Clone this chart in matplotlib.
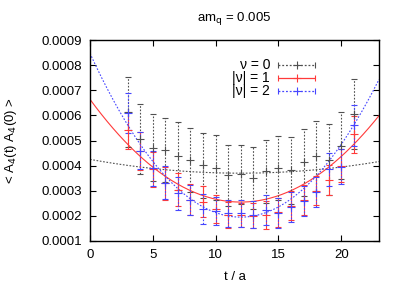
import numpy as np
import matplotlib
matplotlib.use('Agg')
import matplotlib.pyplot as plt

plt.rcParams['font.family'] = ['Liberation Sans', 'DejaVu Sans']
plt.rcParams['font.size'] = 9

# time slices
t = [3, 4, 5, 6, 7, 8, 9, 10, 11, 12, 13, 14, 15, 16, 17, 18, 19, 20, 21]

# nu = 0 (values in units of 1e-4)
nu0 = [6.12, 5.06, 4.72, 4.62, 4.39, 4.22, 4.02, 3.91, 3.61, 3.66, 3.51, 3.77,
       3.90, 3.82, 4.13, 4.38, 4.24, 4.80, 6.06]
nu0_err = [1.39, 1.38, 1.33, 1.28, 1.36, 1.28, 1.29, 1.29, 1.23, 1.18, 1.24, 1.25,
           1.28, 1.34, 1.32, 1.39, 1.40, 1.32, 1.38]

# |nu| = 1
nu1 = [5.40, 4.57, 3.85, 3.30, 3.05, 2.65, 2.57, 2.27, 2.03, 2.04, 2.00, 2.03,
       2.15, 2.40, 2.62, 3.00, 3.42, 4.00, 5.24]
nu1_err = [0.72, 0.75, 0.70, 0.65, 0.67, 0.62, 0.61, 0.55, 0.53, 0.48, 0.50, 0.57,
           0.58, 0.58, 0.60, 0.58, 0.60, 0.65, 0.73]

# |nu| = 2
nu2 = [6.10, 4.60, 3.90, 3.32, 2.90, 2.62, 2.29, 2.20, 2.10, 2.10, 2.05, 2.25,
       2.10, 2.36, 2.60, 2.96, 3.85, 3.95, 5.60]
nu2_err = [0.80, 0.75, 0.70, 0.65, 0.65, 0.60, 0.60, 0.55, 0.55, 0.55, 0.55, 0.60,
           0.60, 0.60, 0.60, 0.60, 0.65, 0.70, 0.80]

# fit curves: minimum value, position of minimum, rise from min to t=0
fit0 = (3.70, 12.0, 0.55)
fit1 = (2.55, 12.0, 4.09)
fit2 = (1.95, 12.0, 6.52)

labels = ['ν = 0', '|ν| = 1', '|ν| = 2']

scale = 1e-4
cols = ['#505050', '#ff3a3a', '#4646ff']
dots = (0, (1.5, 1.5))
styles = [dots, '-', dots]

fig = plt.figure(figsize=(4.01, 2.82), dpi=100)
ax = fig.add_axes([0.2244, 0.1454, 0.7206, 0.7126])

tt = np.linspace(0, 23, 200)
for (fmin, tmin, rise), c, ls in zip([fit0, fit1, fit2], cols, styles):
    ax.plot(tt, (fmin + rise * (tt - tmin) ** 2 / tmin ** 2) * scale, color=c, lw=0.8, ls=ls)

ta = np.array(t)
for vals, errs, c, ls in zip([nu0, nu1, nu2], [nu0_err, nu1_err, nu2_err], cols, styles):
    eb = ax.errorbar(ta, np.array(vals) * scale, yerr=np.array(errs) * scale, fmt='+', color=c,
                     ms=6, mew=0.8, elinewidth=0.8, capsize=2.5, capthick=0.8)
    eb[2][0].set_linestyle(ls)

# gnuplot-style key: text right aligned, horizontal sample with end caps
key_y = [0.876, 0.811, 0.746]
for lab, y, c, ls in zip(labels, key_y, cols, styles):
    ax.text(0.623, y, lab, transform=ax.transAxes, ha='right', va='center', fontsize=10)
    eb = ax.errorbar([0.715], [y], xerr=[0.064], fmt='+', color=c, ms=6, mew=0.8,
                     elinewidth=0.9, capsize=2.5, capthick=0.9, transform=ax.transAxes, clip_on=False)
    eb[2][0].set_linestyle(ls)

ax.set_xlim(0, 23)
ax.set_ylim(0.0001, 0.0009)
ax.set_xticks([0, 5, 10, 15, 20])
yt = np.arange(1, 10) * scale
ax.set_yticks(yt)
ax.set_yticklabels(['%.4f' % v for v in yt])
ax.tick_params(direction='in', top=True, right=True, length=4, width=0.8, pad=6, labelsize=9.5)
for s in ax.spines.values():
    s.set_linewidth(1.0)

ax.set_xlabel('t / a', labelpad=7, fontsize=9.5)
ax.set_ylabel('< A$_4$(t) A$_4$(0) >', labelpad=16, fontsize=9.5)
ax.set_title('am$_\\mathrm{q}$ = 0.005', pad=14, fontsize=9.5)

fig.savefig('out.png', dpi=100)
